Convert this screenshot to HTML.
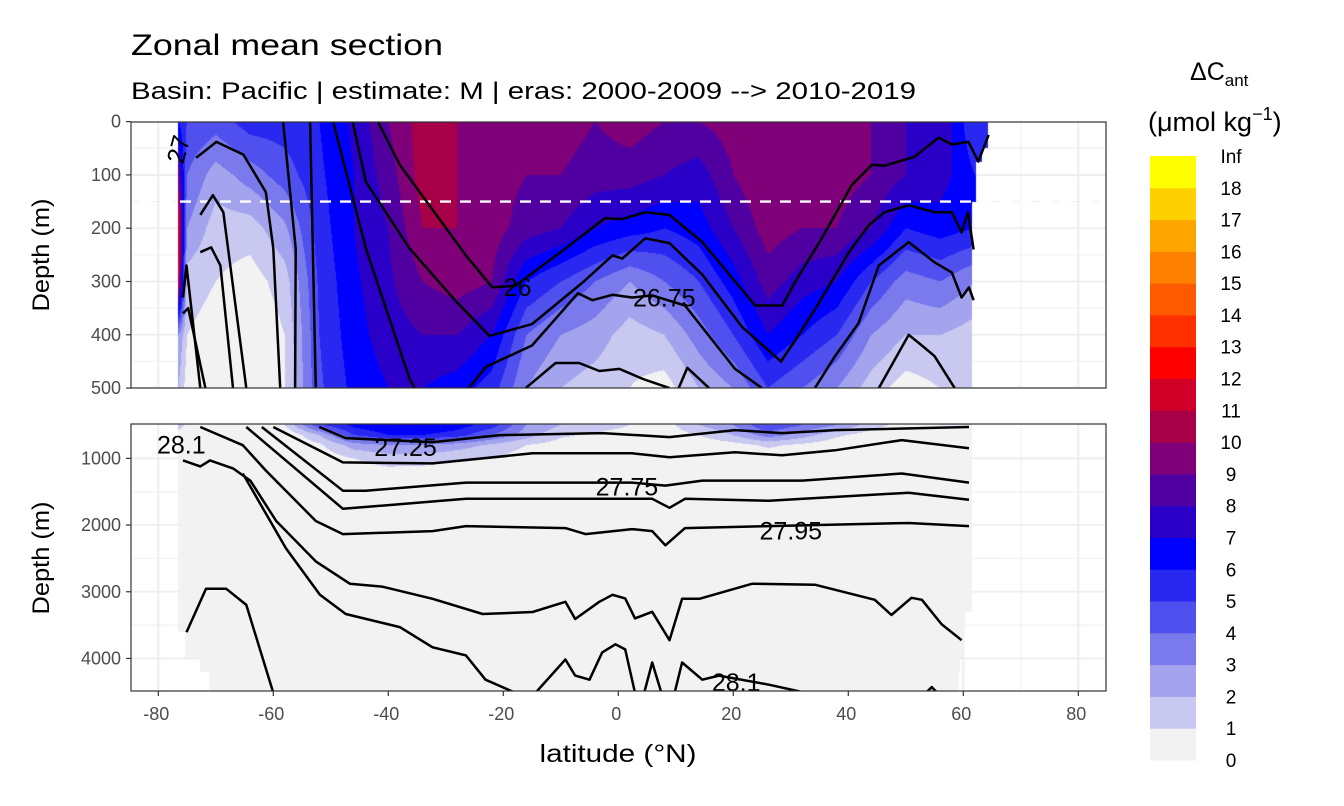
<!DOCTYPE html>
<html><head><meta charset="utf-8">
<style>
html,body{margin:0;padding:0;background:#fff;}
body{width:1344px;height:806px;position:relative;overflow:hidden;font-family:"Liberation Sans",sans-serif;}
canvas{position:absolute;}
svg{position:absolute;left:0;top:0;}
</style></head>
<body>
<canvas id="cTop" width="975" height="266" style="left:131px;top:122px"></canvas>
<canvas id="cBot" width="975" height="267" style="left:131px;top:424px"></canvas>
<svg id="ov" width="1344" height="806">
  <text x="131" y="55" font-size="30" textLength="312" lengthAdjust="spacingAndGlyphs" fill="#000">Zonal mean section</text>
  <text x="131" y="99" font-size="24" textLength="785" lengthAdjust="spacingAndGlyphs" fill="#000">Basin: Pacific | estimate: M  | eras: 2000-2009 --&gt; 2010-2019</text>
  <text x="49" y="255" font-size="24" text-anchor="middle" textLength="113" lengthAdjust="spacingAndGlyphs" transform="rotate(-90 49 255)">Depth (m)</text>
  <text x="49" y="558" font-size="24" text-anchor="middle" textLength="113" lengthAdjust="spacingAndGlyphs" transform="rotate(-90 49 558)">Depth (m)</text>
  <text x="618" y="762" font-size="25" text-anchor="middle" textLength="157" lengthAdjust="spacingAndGlyphs">latitude (°N)</text>
  <text x="1190" y="80" font-size="25">ΔC<tspan font-size="17" dy="6">ant</tspan></text>
  <text x="1148" y="131" font-size="27">(μmol kg<tspan font-size="18" dy="-11">−1</tspan><tspan dy="11">)</tspan></text>
  <g id="gLines"></g>
  <g id="gLabels" font-size="25" fill="#000"></g>
  <g id="gAxes"></g>
  <g id="gLegend"></g>
</svg>
<script>
// ---------- data ----------
const lats = [-76.5,-75,-70,-64,-58,-52,-46,-40,-34,-28,-22,-16,-10,-4,2,8,14,20,26,32,38,44,50,56,62];
const topDepths = [0,100,200,300,400,500];
const topValues = [
 [6,5,4.5,5.5,5.5,6,7.2,9,10.5,10,9.5,9.5,9.5,9,9.5,9,9,9.5,10,9.5,9.5,9,8,8,5],
 [9,4,2.5,3.5,4.5,5.8,7,8.5,10.5,10,9.5,9,9,8.5,8.5,8,7.5,9,10,9.5,9.5,9,8,7.5,6],
 [12,3,1.5,1.5,2.8,5.5,7,8,10,10,9.5,8.5,8,7,6.5,6,6.5,8,9.5,9,9,8,6,6.5,6],
 [11,1.5,1,0.5,1.5,5.2,6.8,7.8,9,9.5,9,6,5,4,3,4,5,6.5,8.5,7.5,7,5,3.5,4,3],
 [3,1,0.5,0,1,5,6.6,7.5,8,8,7,4,3,2.5,1.5,2,3.5,5,7,6,5,3,2,2,1.5],
 [2,0.5,0,0,1,4.8,6.3,7,7,6.5,5.5,3,2,1.5,1,0.5,2,3,5,4,3,1.5,0.5,1,1]
];
const botDepths = [500,650,800,1000,1200,4500];
const botValues = [
 [2,0.5,0,0,1,4.8,6.3,7,7,6.5,5.5,3,2,1.5,1,0.5,2,3,5,4,3,1.5,0.5,1,1],
 [0,0,0,0,0,2,5,6,6,5.5,4,2.5,1.2,0.8,0.6,0.4,1,2,3.5,2.5,1.2,0.5,0,0,0],
 [0,0,0,0,0,0.8,2.5,3,3,2.5,1.8,1,0.5,0.3,0.2,0.1,0.3,0.6,1.2,0.8,0.3,0,0,0,0],
 [0,0,0,0,0,0.3,1,1.5,1.5,1.2,1,0.5,0.2,0,0,0,0,0,0.3,0,0,0,0,0,0],
 [0,0,0,0,0,0,0.5,0.7,0.6,0.4,0.2,0,0,0,0,0,0,0,0,0,0,0,0,0,0],
 [0,0,0,0,0,0,0,0,0,0,0,0,0,0,0,0,0,0,0,0,0,0,0,0,0]
];
const maskDepths = [0,50,75,150,2900,3300,3600,4000,4200];
const maskSouth = [-76.6,-76.6,-76.6,-76.6,-76.6,-76.6,-75.3,-72.8,-71.2];
const maskNorth = [64.3,63.3,62.2,61.5,61.5,60.3,60.0,59.5,59.3];
const binColors = ['#f2f2f2','#c8c8f0','#a3a3ee','#7a7aec','#5050ee','#2828f0','#0000ff','#2a00c8','#5000a0','#7f0078','#a70048','#d00028','#ff0000','#ff3000','#ff5a00','#ff8000','#ffa500','#ffd000','#ffff00'];
const binLabels = ['0','1','2','3','4','5','6','7','8','9','10','11','12','13','14','15','16','17','18','Inf'];
const xTicks = [-80,-60,-40,-20,0,20,40,60,80];
const yTicksTop = [0,100,200,300,400,500];
const yTicksBot = [1000,2000,3000,4000];
// contour lines (lat, depth)
const contours = [
 [[-75.7,330],[-75.1,270],[-72.7,500]],
 [[-75.7,360],[-74.8,350],[-71.8,500]],
 [[-72.7,175],[-70.5,138],[-68.7,170],[-64.7,500]],
 [[-72.7,245],[-70.8,236],[-69.2,270],[-67,500]],
 [[-73.4,68],[-69.9,38],[-65.2,62],[-61.3,132],[-60,238],[-58.8,500]],
 [[-58.3,0],[-56.1,238],[-56.2,500]],
 [[-53.6,0],[-52.6,500]],
 [[-49.6,0],[-43.9,238],[-36.3,483],[-35.4,500]],
 [[-41.8,0],[-38,81],[-26.5,251],[-21.9,311],[-17.9,308],[-9.2,238],[-2.3,181],[0.7,183],[4.7,170],[8.9,175],[14.6,226],[23.8,345],[28.5,345],[30.7,302],[35.4,219],[40.6,119],[44.1,81],[46.3,83],[51.5,66],[55.7,30],[58,43],[60.9,38],[62.6,75],[64.4,25]],
 [[-46.2,0],[-43.9,113],[-36.3,238],[-28,340],[-22.4,402],[-15,380],[-6,300],[-1,251],[0.7,257],[4.7,219],[8.9,228],[14.6,287],[21.5,385],[28.3,450],[31.4,400],[34.9,340],[40.1,245],[43.6,194],[46.3,170],[50.5,157],[55,170],[58,170],[59.7,208],[60.8,170],[61.8,240]],
 [[-26,500],[-23,460],[-15,420],[-7,322],[-4.5,335],[-1,325],[2.4,330],[5.9,326],[11.6,345],[20.3,464],[25,500]],
 [[34.2,500],[37.7,440],[41.8,378],[45.3,270],[50.5,226],[55,264],[58,283],[59.7,330],[61,311],[61.8,335]],
 [[45.3,500],[50.5,400],[52.8,420],[55,440],[58.5,500]],
 [[-16.1,500],[-10.9,453],[-6.8,453],[-3.3,468],[0.2,464],[4.3,483],[8.9,500]],
 [[10.5,500],[12,462],[15.8,500]],
 // lower panel
 [[-52,530],[-47.4,697],[-32.3,758],[-20.6,652],[-2.8,621],[8.9,682],[20.3,576],[28.5,621],[37.7,576],[61,530]],
 [[-60,530],[-47.9,1060],[-32.3,1076],[-14.9,924],[2.4,924],[8.9,985],[20.3,909],[28.5,955],[37.7,879],[49.3,727],[61,848]],
 [[-62,530],[-47.9,1485],[-43.9,1485],[-26.5,1364],[2.4,1364],[8.2,1409],[14.6,1333],[32,1333],[49.3,1227],[61,1364]],
 [[-64.7,530],[-47.9,1757],[-26.5,1606],[5.9,1606],[8.9,1742],[11.6,1606],[26.2,1636],[50.5,1515],[61,1621]],
 [[-72.7,530],[-65.3,803],[-61.3,1182],[-52.6,1939],[-47.9,2136],[-32.3,2091],[-26.5,2015],[-9.2,2045],[-5.7,2136],[2.4,2061],[5.9,2091],[8.2,2303],[11.6,2045],[26.2,2015],[50.5,1970],[61,2015]],
 [[-75.7,1030],[-72.7,1120],[-71,1030],[-67,1151],[-64,1333],[-59.5,1939],[-52.6,2545],[-46.7,2879],[-41,2924],[-32.3,3106],[-23.6,3333],[-14.9,3303],[-9.2,3151],[-7.5,3409],[-3.3,3151],[-1,3045],[1.2,3100],[2.9,3400],[5.9,3300],[8.9,3727],[11.1,3106],[14.1,3106],[23.3,2879],[34.2,2894],[44.6,3121],[47.5,3348],[51,3091],[52.8,3120],[56.2,3485],[59.7,3727]],
 [[-65.3,1227],[-57.8,2348],[-51.9,3045],[-47.4,3333],[-38,3530],[-32.3,3833],[-26.5,3955],[-23.1,4318],[-17.9,4515]],
 [[-75.1,3606],[-71.7,2954],[-68.2,2954],[-64.7,3197],[-60,4515]],
 [[-14.4,4515],[-9.2,4015],[-7.5,4257],[-5,4318],[-2.8,3909],[-0.5,3788],[1.2,3864],[2.9,4515]],
 [[4.5,4515],[5.9,4060],[7.5,4515]],
 [[9.8,4515],[11.1,4060],[14.6,4318],[17.5,4257],[26.2,4394],[34.2,4545]],
 [[53.5,4515],[54.5,4430],[55.5,4515]]
];
const lineLabels = [
 {t:'26',lat:-17.5,d:310},{t:'26.75',lat:8,d:330},{t:'27.25',lat:-37,d:830},
 {t:'27.75',lat:1.5,d:1420},{t:'27.95',lat:30,d:2080},{t:'28.1',lat:-76,d:790},{t:'28.1',lat:20.5,d:4350}
];

// ---------- scales ----------
const X = lat => 618.3 + 5.75*lat;
const YT = d => 121.6 + d*0.533;
const YB = d => 425 + (d-500)*0.0667;
const Y = d => d <= 500 ? YT(d) : YB(d);
const invLat = x => (x-618.3)/5.75;

function interp(depths, vals, lat, d){
  let i=0; while(i<lats.length-2 && lat>lats[i+1]) i++;
  let j=0; while(j<depths.length-2 && d>depths[j+1]) j++;
  let tx=(lat-lats[i])/(lats[i+1]-lats[i]); tx=Math.max(0,Math.min(1,tx));
  let ty=(d-depths[j])/(depths[j+1]-depths[j]); ty=Math.max(0,Math.min(1,ty));
  const a=vals[j][i],b=vals[j][i+1],c=vals[j+1][i],e=vals[j+1][i+1];
  return (a*(1-tx)+b*tx)*(1-ty)+(c*(1-tx)+e*tx)*ty;
}
function edgeIdx(d){let k=0; while(k<maskDepths.length-1 && d>=maskDepths[k+1]) k++; return k;}
function hex(c){return [parseInt(c.substr(1,2),16),parseInt(c.substr(3,2),16),parseInt(c.substr(5,2),16)];}
const rgb = binColors.map(hex);

function drawPanel(id, top, h, isTop){
  const cv=document.getElementById(id), ctx=cv.getContext('2d');
  ctx.fillStyle='#fff'; ctx.fillRect(0,0,975,h);
  ctx.strokeStyle='#ebebeb';
  for(let lat=-80;lat<=80;lat+=10){
    ctx.lineWidth = lat%20===0?1.6:0.8;
    const x=X(lat)-131; ctx.beginPath(); ctx.moveTo(x,0); ctx.lineTo(x,h); ctx.stroke();
  }
  const gd = isTop ? [0,50,100,150,200,250,300,350,400,450,500] : [500,1000,1500,2000,2500,3000,3500,4000,4500];
  gd.forEach(d=>{
    ctx.lineWidth = isTop ? (d%100===0?1.6:0.8) : (d%1000===0?1.6:0.8);
    const y=Y(d)-top; ctx.beginPath(); ctx.moveTo(0,y); ctx.lineTo(975,y); ctx.stroke();
  });
  const img=ctx.getImageData(0,0,975,h), px=img.data;
  for(let j=0;j<h;j++){
    const yy=top+j+0.5;
    const d = isTop ? (yy-121.6)/0.533 : 500+(yy-425)/0.0667;
    if(d<0||d>4500) continue;
    const k=edgeIdx(d);
    for(let i=0;i<975;i++){
      const lat=invLat(131+i+0.5);
      if(lat<maskSouth[k]||lat>maskNorth[k]) continue;
      const v = isTop ? interp(topDepths,topValues,lat,d) : interp(botDepths,botValues,lat,Math.max(500,d));
      const b=Math.max(0,Math.min(18,Math.floor(v)));
      const c=rgb[b], p=(j*975+i)*4;
      px[p]=c[0];px[p+1]=c[1];px[p+2]=c[2];px[p+3]=255;
    }
  }
  ctx.putImageData(img,0,0);
}
drawPanel('cTop',122,266,true);
drawPanel('cBot',424,267,false);

const NS='http://www.w3.org/2000/svg';
const ov=document.getElementById('ov');
const dash=document.createElementNS(NS,'line');


dash.setAttribute('x1',140);dash.setAttribute('x2',1106);dash.setAttribute('y1',YT(150));dash.setAttribute('y2',YT(150));
dash.setAttribute('stroke','#fff');dash.setAttribute('stroke-width',2.4);dash.setAttribute('stroke-dasharray','11 9');
ov.insertBefore(dash, document.getElementById('gLines'));

const defs=document.createElementNS(NS,'defs');
defs.innerHTML='<clipPath id="clipT"><rect x="131" y="122" width="975" height="266"/></clipPath><clipPath id="clipB"><rect x="131" y="424" width="975" height="267"/></clipPath>';
ov.appendChild(defs);
const gL=document.getElementById('gLines');
contours.forEach(line=>{
  const isTop = line.every(p=>p[1]<=500);
  const pl=document.createElementNS(NS,'polyline');
  
  
  pl.setAttribute('points', line.map(p=>X(p[0]).toFixed(1)+','+Y(p[1]).toFixed(1)).join(' '));
  pl.setAttribute('fill','none');pl.setAttribute('stroke','#000');pl.setAttribute('stroke-width',2.5);
  pl.setAttribute('stroke-linejoin','round');
  pl.setAttribute('clip-path', isTop?'url(#clipT)':'url(#clipB)');
  gL.appendChild(pl);
});
const gLab=document.getElementById('gLabels');
lineLabels.forEach(l=>{
  const t=document.createElementNS(NS,'text');
  
  
  t.setAttribute('x',X(l.lat));t.setAttribute('y',Y(l.d)+9);t.setAttribute('text-anchor','middle');
  t.textContent=l.t; gLab.appendChild(t);
});
const t27=document.createElementNS(NS,'text');


t27.setAttribute('x',183);t27.setAttribute('y',165);t27.setAttribute('transform','rotate(-75 183 165)');t27.textContent='27';
gLab.appendChild(t27);

const gA=document.getElementById('gAxes');
function add(tag,attrs,name,txt){const e=document.createElementNS(NS,tag);for(const k in attrs)e.setAttribute(k,attrs[k]);if(txt!==undefined)e.textContent=txt;gA.appendChild(e);return e;}
add('rect',{x:131,y:122,width:975,height:266,fill:'none',stroke:'#333','stroke-width':1.2},'upper-panel-border');
add('rect',{x:131,y:424,width:975,height:267,fill:'none',stroke:'#333','stroke-width':1.2},'lower-panel-border');
yTicksTop.forEach(d=>{
  add('line',{x1:126,x2:131,y1:YT(d),y2:YT(d),stroke:'#333','stroke-width':1.2},'y-tick');
  add('text',{x:121,y:YT(d)+6,'font-size':18,'text-anchor':'end',fill:'#4d4d4d'},'y-tick-label',String(d));
});
yTicksBot.forEach(d=>{
  add('line',{x1:126,x2:131,y1:YB(d),y2:YB(d),stroke:'#333','stroke-width':1.2},'y-tick');
  add('text',{x:121,y:YB(d)+6,'font-size':18,'text-anchor':'end',fill:'#4d4d4d'},'y-tick-label',String(d));
});
xTicks.forEach(v=>{
  add('line',{x1:X(v),x2:X(v),y1:691,y2:696,stroke:'#333','stroke-width':1.2},'x-tick');
  add('text',{x:X(v)-2,y:720,'font-size':18,'text-anchor':'middle',fill:'#4d4d4d'},'x-tick-label',String(v));
});

const gLg=document.getElementById('gLegend');
const barTop=156, barBot=760, bh=(barBot-barTop)/binColors.length;
binColors.forEach((c,k)=>{
  const r=document.createElementNS(NS,'rect');
  
  
  r.setAttribute('x',1150);r.setAttribute('y',barBot-(k+1)*bh);r.setAttribute('width',46);r.setAttribute('height',bh+0.5);r.setAttribute('fill',c);
  gLg.appendChild(r);
});
binLabels.forEach((s,k)=>{
  const t=document.createElementNS(NS,'text');
  
  
  t.setAttribute('x',1231);t.setAttribute('y',barBot-k*bh+7);t.setAttribute('text-anchor','middle');t.setAttribute('font-size',19);
  t.textContent=s; gLg.appendChild(t);
});
</script>
</body></html>
